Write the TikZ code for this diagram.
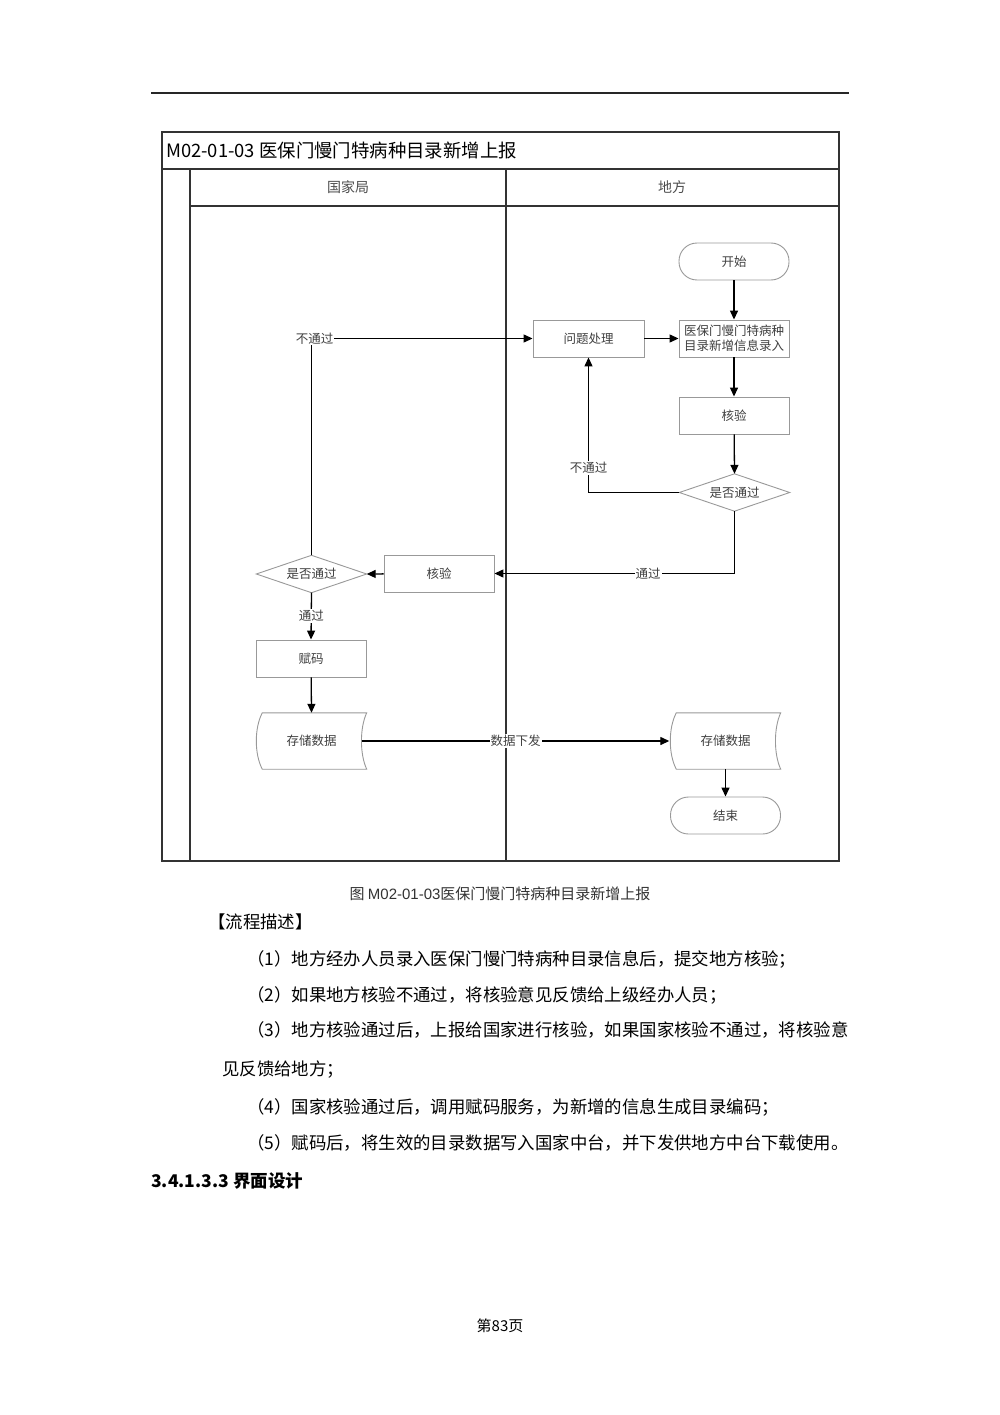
\documentclass[tikz,border=0pt]{standalone}
\usepackage{fontspec}
\setmainfont{Noto Sans CJK SC}
\newfontfamily\arialf{Liberation Sans}
\usetikzlibrary{arrows.meta}
\begin{document}
\begin{tikzpicture}[x=1pt,y=-1pt,
  nodeline/.style={draw=black!40, line width=0.9pt},
  box/.style={nodeline, minimum width=110pt, minimum height=37pt, inner sep=1pt,
    font=\fontsize{12.5}{14.5}\selectfont, text=black!75, align=center},
  term/.style={box, rounded corners=18pt},
  ghost/.style={minimum width=110pt, minimum height=37pt, inner sep=0pt,
    font=\fontsize{12.5}{14.5}\selectfont, text=black!75, align=center},
  conn/.style={line width=1.3pt, -{Triangle[length=9pt,width=8pt]}},
  lab/.style={fill=white, inner sep=1pt, font=\fontsize{12.5}{14}\selectfont, text=black!75},
  frameline/.style={line width=1.2pt, draw=black!80},
  hdr/.style={font=\fontsize{14}{16}\selectfont, text=black!70},
  body/.style={anchor=west, inner sep=0pt, font=\fontsize{17.4}{20}\selectfont}
]
\useasboundingbox[fill=white] (0,0) rectangle (1000,1415);

% page rule
\draw[line width=1.8pt, black!85] (151,93) -- (849,93);

% frame
\draw[frameline] (162,132) rectangle (839,861);
\draw[frameline] (162,169) -- (839,169);
\draw[frameline] (190,169) -- (190,861);
\draw[frameline] (190,206) -- (839,206);
\draw[frameline] (506,169) -- (506,861);

\node[anchor=west, inner sep=0pt, font=\fontsize{18.4}{20}\selectfont] (title) at (166,150) {M02-01-03 医保门慢门特病种目录新增上报};
\node[hdr] (lane1) at (348,187) {国家局};
\node[hdr] (lane2) at (672,187) {地方};

% nodes
\node[term] (start) at (734,261.5) {开始};
\node[box] (entry) at (734,338.5) {医保门慢门特病种\\目录新增信息录入};
\node[box, minimum width=111pt] (wenti) at (588.5,338.5) {问题处理};
\node[box] (chk1) at (734,415.5) {核验};
\node[ghost] (dec1) at (734.5,492.5) {是否通过};
\draw[nodeline] (dec1.north) -- (dec1.east) -- (dec1.south) -- (dec1.west) -- cycle;
\node[box] (chk2) at (439,573.5) {核验};
\node[ghost] (dec2) at (311.5,574) {是否通过};
\draw[nodeline] (dec2.north) -- (dec2.east) -- (dec2.south) -- (dec2.west) -- cycle;
\node[box] (fuma) at (311,658.5) {赋码};
\node[ghost, minimum height=56pt] (st1) at (311.5,741) {存储数据};
\draw[nodeline] ([xshift=6pt]st1.north west) -- (st1.north east)
  .. controls ([xshift=-7pt,yshift=-15pt]st1.north east) and ([xshift=-7pt,yshift=15pt]st1.south east) .. (st1.south east)
  -- ([xshift=6pt]st1.south west)
  .. controls ([xshift=-2pt,yshift=15pt]st1.south west) and ([xshift=-2pt,yshift=-15pt]st1.north west) .. cycle;
\node[ghost, minimum height=56pt] (st2) at (725.5,741) {存储数据};
\draw[nodeline] ([xshift=6pt]st2.north west) -- (st2.north east)
  .. controls ([xshift=-7pt,yshift=-15pt]st2.north east) and ([xshift=-7pt,yshift=15pt]st2.south east) .. (st2.south east)
  -- ([xshift=6pt]st2.south west)
  .. controls ([xshift=-2pt,yshift=15pt]st2.south west) and ([xshift=-2pt,yshift=-15pt]st2.north west) .. cycle;
\node[term] (end) at (725.5,815.5) {结束};

% connectors
\draw[conn] (start) -- (entry);
\draw[conn] (wenti) -- (entry);
\draw[conn] (entry) -- (chk1);
\draw[conn] (chk1) -- (dec1.north);
\draw[conn] (dec1.west) -| node[lab, pos=0.59] {不通过} (wenti.south);
\draw[conn] (dec1.south) |- node[lab, pos=0.68] {通过} (chk2.east);
\draw[conn] (chk2) -- (dec2.east);
\draw[conn] (dec2.north) |- node[lab, pos=0.5, xshift=3pt] {不通过} (wenti.west);
\draw[conn] (dec2.south) -- node[lab] {通过} (fuma.north);
\draw[conn] (fuma) -- (st1.north);
\draw[conn] ([xshift=-5pt]st1.east) -- node[lab] {数据下发} ([xshift=-1pt]st2.west);
\draw[conn] (st2.south) -- (end.north);

% caption and text
\node[font=\fontsize{15}{17}\selectfont, text=black!80] (cap) at (500,894) {图 {\arialf M02-01-03}医保门慢门特病种目录新增上报};
\node[body] (t0) at (208,922) {【流程描述】};
\node[body] (t1) at (247,959) {（1）地方经办人员录入医保门慢门特病种目录信息后，提交地方核验；};
\node[body] (t2) at (247,995) {（2）如果地方核验不通过，将核验意见反馈给上级经办人员；};
\node[body] (t3) at (247,1030) {（3）地方核验通过后，上报给国家进行核验，如果国家核验不通过，将核验意};
\node[body] (t3b) at (222,1070) {见反馈给地方；};
\node[body] (t4) at (247,1107) {（4）国家核验通过后，调用赋码服务，为新增的信息生成目录编码；};
\node[body] (t5) at (247,1143) {（5）赋码后，将生效的目录数据写入国家中台，并下发供地方中台下载使用。};
\node[body, font=\fontsize{17.5}{20}\selectfont\bfseries] (h1) at (151,1181) {3.4.1.3.3 界面设计};
\node[font=\fontsize{15}{17}\selectfont] (pg) at (500,1326) {第83页};
\end{tikzpicture}
\end{document}
